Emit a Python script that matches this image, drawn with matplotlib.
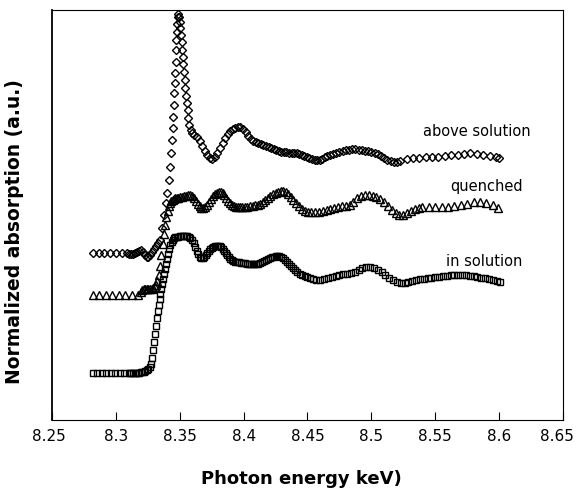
import matplotlib
matplotlib.use("Agg")
import matplotlib.pyplot as plt
from matplotlib.transforms import ScaledTranslation

# photon energy (keV) and offset normalized absorption (a.u.)

# above solution (diamonds)
e_above = [8.282, 8.2865, 8.291, 8.2955, 8.300, 8.3045, 8.309,
           8.3105, 8.3120, 8.3135, 8.3150, 8.3165, 8.3180, 8.3195, 8.3210, 8.3225, 8.3240,
           8.3255, 8.3270, 8.3285, 8.3300, 8.3315, 8.3330,
           8.3345, 8.3360, 8.3375, 8.3390, 8.3402, 8.3413, 8.3424, 8.3432, 8.3439, 8.3444,
           8.3448, 8.3452, 8.3456, 8.3460, 8.3463, 8.3467, 8.3470, 8.3474, 8.3478, 8.3482,
           8.3486, 8.3490, 8.3495, 8.3500, 8.3505, 8.3510, 8.3515, 8.3520, 8.3524, 8.3528,
           8.3533, 8.3538, 8.3544, 8.3550, 8.3556, 8.3562, 8.3568, 8.3575, 8.3585, 8.3596,
           8.3615, 8.3635, 8.3655, 8.3675, 8.3695, 8.3715, 8.3735, 8.3755, 8.3775, 8.3795,
           8.3815, 8.3835, 8.3855, 8.3875, 8.3895, 8.3915, 8.3935, 8.3955, 8.3975, 8.3995,
           8.4015, 8.4035, 8.4055, 8.4075, 8.4095, 8.4115, 8.4135, 8.4155, 8.4175, 8.4195,
           8.4215, 8.4235, 8.4255, 8.4275, 8.4295, 8.4315, 8.4335, 8.4355, 8.4375, 8.4395,
           8.4415, 8.4435, 8.4455, 8.4475, 8.4495, 8.4515, 8.4535, 8.4555, 8.4575, 8.4595,
           8.4615, 8.4635, 8.4655, 8.4675, 8.4700, 8.4725, 8.4750, 8.4775, 8.4800, 8.4825,
           8.4850, 8.4875, 8.4900, 8.4925, 8.4950, 8.4975, 8.5000, 8.5025, 8.5050, 8.5075,
           8.5100, 8.5125, 8.5150, 8.5175, 8.5200, 8.5225, 8.5275, 8.5325, 8.5375, 8.5425,
           8.5475, 8.5525, 8.5575, 8.5625, 8.5675, 8.5725, 8.5775, 8.5825, 8.5875, 8.5925,
           8.5975, 8.6000]
a_above = [1.67, 1.67, 1.67, 1.67, 1.67, 1.67, 1.67,
           1.66, 1.66, 1.66, 1.67, 1.68, 1.69, 1.70, 1.68, 1.65, 1.63,
           1.63, 1.65, 1.68, 1.71, 1.74, 1.77,
           1.80, 1.92, 2.05, 2.17, 2.27, 2.40, 2.53, 2.67, 2.80, 2.92,
           3.03, 3.15, 3.27, 3.37, 3.47, 3.58, 3.70, 3.80, 3.88, 3.96,
           4.03, 4.06, 4.03, 3.98, 3.92, 3.85, 3.78, 3.70, 3.63, 3.56,
           3.48, 3.40, 3.32, 3.24, 3.17, 3.10, 3.02, 2.95, 2.90, 2.87,
           2.85, 2.83, 2.79, 2.74, 2.69, 2.65, 2.62, 2.61, 2.63, 2.67,
           2.72, 2.77, 2.82, 2.86, 2.89, 2.91, 2.92, 2.93, 2.93, 2.91,
           2.88, 2.84, 2.81, 2.79, 2.78, 2.77, 2.76, 2.75, 2.74, 2.73,
           2.72, 2.71, 2.70, 2.69, 2.68, 2.68, 2.68, 2.67, 2.67, 2.67,
           2.67, 2.66, 2.65, 2.64, 2.63, 2.62, 2.61, 2.60, 2.60, 2.60,
           2.61, 2.63, 2.64, 2.65, 2.66, 2.67, 2.68, 2.69, 2.70, 2.70,
           2.71, 2.71, 2.70, 2.70, 2.69, 2.69, 2.68, 2.67, 2.66, 2.64,
           2.62, 2.60, 2.59, 2.58, 2.58, 2.59, 2.61, 2.62, 2.62, 2.63,
           2.63, 2.63, 2.64, 2.65, 2.65, 2.66, 2.67, 2.66, 2.65, 2.64,
           2.63, 2.62]

# quenched (triangles)
e_quench = [8.2820, 8.2871, 8.2922, 8.2973, 8.3024, 8.3075, 8.3126, 8.3177,
            8.3195, 8.3207, 8.3219, 8.3231, 8.3243, 8.3255, 8.3267, 8.3279, 8.3291, 8.3303,
            8.3315, 8.3325, 8.3335, 8.3345, 8.3355, 8.3365, 8.3375, 8.3385, 8.3395, 8.3405,
            8.3415, 8.3425, 8.3435, 8.3445, 8.3455, 8.3465, 8.3475,
            8.3490, 8.3505, 8.3520, 8.3535, 8.3550, 8.3565, 8.3580, 8.3595, 8.3610, 8.3625,
            8.3640, 8.3655, 8.3670, 8.3685, 8.3700, 8.3715, 8.3730, 8.3745, 8.3760, 8.3775,
            8.3790, 8.3805, 8.3820, 8.3835, 8.3850, 8.3865, 8.3880, 8.3895, 8.3910, 8.3925,
            8.3940, 8.3955, 8.3970, 8.3990, 8.4010, 8.4030, 8.4050, 8.4070, 8.4090, 8.4110,
            8.4130, 8.4150, 8.4170, 8.4190, 8.4210, 8.4230, 8.4250, 8.4270, 8.4290, 8.4310,
            8.4330, 8.4350, 8.4370, 8.4390, 8.4410, 8.4430, 8.4455, 8.4480, 8.4505, 8.4530,
            8.4560, 8.4590, 8.4620, 8.4650, 8.4680, 8.4710, 8.4740, 8.4770, 8.4800, 8.4830,
            8.4860, 8.4890, 8.4920, 8.4950, 8.4980, 8.5010, 8.5040, 8.5070, 8.5100, 8.5130,
            8.5160, 8.5190, 8.5220, 8.5250, 8.5280, 8.5310, 8.5340, 8.5370, 8.5400, 8.5450,
            8.5500, 8.5550, 8.5600, 8.5650, 8.5700, 8.5750, 8.5800, 8.5850, 8.5900, 8.5950,
            8.5990]
a_quench = [1.25, 1.25, 1.25, 1.25, 1.25, 1.25, 1.25, 1.25,
            1.28, 1.30, 1.31, 1.31, 1.31, 1.31, 1.31, 1.31, 1.32, 1.33,
            1.35, 1.39, 1.45, 1.54, 1.65, 1.76, 1.86, 1.95, 2.03, 2.09,
            2.14, 2.17, 2.19, 2.20, 2.21, 2.22, 2.22,
            2.22, 2.23, 2.23, 2.24, 2.24, 2.25, 2.25, 2.24, 2.22, 2.19,
            2.16, 2.14, 2.12, 2.12, 2.13, 2.15, 2.18, 2.21, 2.24, 2.26,
            2.27, 2.28, 2.28, 2.27, 2.25, 2.22, 2.19, 2.17, 2.15, 2.14,
            2.13, 2.13, 2.13, 2.13, 2.13, 2.13, 2.14, 2.14, 2.15, 2.15,
            2.16, 2.18, 2.20, 2.22, 2.24, 2.26, 2.27, 2.28, 2.29, 2.29,
            2.28, 2.26, 2.23, 2.20, 2.17, 2.14, 2.11, 2.09, 2.08, 2.08,
            2.08, 2.08, 2.09, 2.10, 2.11, 2.12, 2.13, 2.14, 2.14, 2.15,
            2.18, 2.22, 2.24, 2.25, 2.25, 2.24, 2.23, 2.21, 2.18, 2.14,
            2.10, 2.07, 2.05, 2.05, 2.07, 2.09, 2.11, 2.12, 2.13, 2.13,
            2.13, 2.13, 2.13, 2.14, 2.15, 2.16, 2.18, 2.18, 2.17, 2.15,
            2.12]

# in solution (squares)
e_insol = [8.2820, 8.2855, 8.2890, 8.2925, 8.2960, 8.2995, 8.3030, 8.3065, 8.3100,
           8.3110, 8.3122, 8.3134, 8.3146, 8.3158, 8.3170, 8.3182, 8.3194, 8.3206, 8.3218,
           8.3230, 8.3242, 8.3254, 8.3266,
           8.3275, 8.3285, 8.3293, 8.3300, 8.3307, 8.3314, 8.3321, 8.3328, 8.3335, 8.3342,
           8.3349, 8.3356, 8.3363, 8.3370, 8.3377, 8.3385, 8.3393, 8.3401, 8.3409, 8.3418,
           8.3427, 8.3436, 8.3446, 8.3456, 8.3466,
           8.3476, 8.3488, 8.3500, 8.3512, 8.3524, 8.3536, 8.3548, 8.3560, 8.3572, 8.3584,
           8.3596, 8.3608, 8.3620, 8.3632, 8.3644, 8.3656, 8.3668, 8.3680, 8.3692, 8.3704,
           8.3716, 8.3728, 8.3740, 8.3752, 8.3764, 8.3776, 8.3788, 8.3800, 8.3812, 8.3824,
           8.3836, 8.3848, 8.3860, 8.3872, 8.3884, 8.3896, 8.3908, 8.3920, 8.3935, 8.3950,
           8.3965, 8.3980, 8.3995, 8.4010, 8.4025, 8.4040, 8.4055, 8.4070, 8.4085, 8.4100,
           8.4115, 8.4130, 8.4145, 8.4160, 8.4175, 8.4190, 8.4205, 8.4220, 8.4235, 8.4250,
           8.4265, 8.4280, 8.4295, 8.4310, 8.4325, 8.4340, 8.4355, 8.4370, 8.4385, 8.4400,
           8.4420, 8.4440, 8.4460, 8.4480, 8.4500, 8.4520, 8.4545, 8.4570, 8.4600, 8.4630,
           8.4660, 8.4690, 8.4720, 8.4750, 8.4780, 8.4810, 8.4840, 8.4870, 8.4900, 8.4930,
           8.4960, 8.4990, 8.5020, 8.5050, 8.5080, 8.5110, 8.5140, 8.5170, 8.5200, 8.5230,
           8.5260, 8.5290, 8.5320, 8.5350, 8.5380, 8.5410, 8.5440, 8.5470, 8.5500, 8.5530,
           8.5560, 8.5590, 8.5620, 8.5650, 8.5680, 8.5710, 8.5740, 8.5770, 8.5800, 8.5830,
           8.5860, 8.5890, 8.5920, 8.5950, 8.5980, 8.6005]
a_insol = [0.47, 0.47, 0.47, 0.47, 0.47, 0.47, 0.47, 0.47, 0.47,
           0.47, 0.47, 0.47, 0.47, 0.47, 0.47, 0.47, 0.48, 0.48, 0.48,
           0.49, 0.50, 0.51, 0.53,
           0.56, 0.62, 0.70, 0.78, 0.86, 0.94, 1.02, 1.09, 1.15, 1.21,
           1.26, 1.31, 1.36, 1.41, 1.46, 1.51, 1.56, 1.61, 1.66, 1.71,
           1.75, 1.78, 1.80, 1.82, 1.83,
           1.83, 1.83, 1.84, 1.84, 1.84, 1.84, 1.84, 1.84, 1.83, 1.82,
           1.80, 1.77, 1.73, 1.69, 1.66, 1.63, 1.62, 1.62, 1.63, 1.65,
           1.67, 1.69, 1.71, 1.72, 1.73, 1.74, 1.74, 1.74, 1.74, 1.73,
           1.71, 1.69, 1.67, 1.65, 1.63, 1.61, 1.60, 1.59, 1.58, 1.58,
           1.58, 1.57, 1.57, 1.57, 1.56, 1.56, 1.56, 1.56, 1.56, 1.56,
           1.56, 1.57, 1.58, 1.59, 1.60, 1.61, 1.62, 1.63, 1.63, 1.64,
           1.64, 1.64, 1.63, 1.62, 1.60, 1.58, 1.56, 1.54, 1.52, 1.50,
           1.48, 1.46, 1.45, 1.44, 1.43, 1.42, 1.41, 1.40, 1.40, 1.41,
           1.42, 1.43, 1.44, 1.45, 1.46, 1.46, 1.47, 1.48, 1.50, 1.52,
           1.53, 1.53, 1.52, 1.50, 1.48, 1.45, 1.42, 1.40, 1.38, 1.37,
           1.37, 1.38, 1.39, 1.40, 1.41, 1.41, 1.42, 1.42, 1.43, 1.43,
           1.44, 1.44, 1.45, 1.45, 1.45, 1.45, 1.45, 1.44, 1.44, 1.43,
           1.42, 1.42, 1.41, 1.40, 1.39, 1.38]

xticks = [8.25, 8.3, 8.35, 8.4, 8.45, 8.5, 8.55, 8.6, 8.65]
xtick_labels = ["8.25", "8.3", "8.35", "8.4", "8.45", "8.5", "8.55", "8.6", "8.65"]

fig = plt.figure(figsize=(5.78, 4.93), dpi=100)
ax = fig.add_axes([52 / 578, 73 / 493, 511 / 578, 410 / 493])

ax.plot(e_insol, a_insol, linestyle="none", marker="s", ms=4.8,
        mfc="none", mec="black", mew=1.0)
ax.plot(e_quench, a_quench, linestyle="none", marker="^", ms=6.2,
        mfc="none", mec="black", mew=1.0)
ax.plot(e_above, a_above, linestyle="none", marker="D", ms=3.9,
        mfc="none", mec="black", mew=1.0)

ax.text(8.5827, 2.88, "above solution", fontsize=10.5, ha="center", va="center")
ax.text(8.5905, 2.33, "quenched", fontsize=10.5, ha="center", va="center")
ax.text(8.5882, 1.58, "in solution", fontsize=10.5, ha="center", va="center")

ax.set_xlim(8.25, 8.65)
ax.set_ylim(0, 4.1)
ax.set_xticks(xticks)
ax.set_xticklabels(xtick_labels, fontsize=11)
ax.set_yticks([])
ax.tick_params(axis="x", direction="in", length=6, width=0.8, pad=6.5)
for s in ["top", "right", "bottom"]:
    ax.spines[s].set_linewidth(0.8)
ax.spines["left"].set_linewidth(1.3)

# keep the first and last tick labels inside the figure, as in the original
labels = ax.get_xticklabels()
labels[0].set_transform(labels[0].get_transform() + ScaledTranslation(-3 / 100, 0, fig.dpi_scale_trans))
labels[-1].set_transform(labels[-1].get_transform() + ScaledTranslation(-6 / 100, 0, fig.dpi_scale_trans))

fig.text(301 / 578, 1 - 479 / 493, "Photon energy keV)", fontsize=13,
         fontweight="bold", ha="center", va="center")
fig.text(15 / 578, 1 - 232 / 493, "Normalized absorption (a.u.)", fontsize=13.5,
         fontweight="bold", ha="center", va="center", rotation=90)

fig.savefig("out.png", dpi=100)
